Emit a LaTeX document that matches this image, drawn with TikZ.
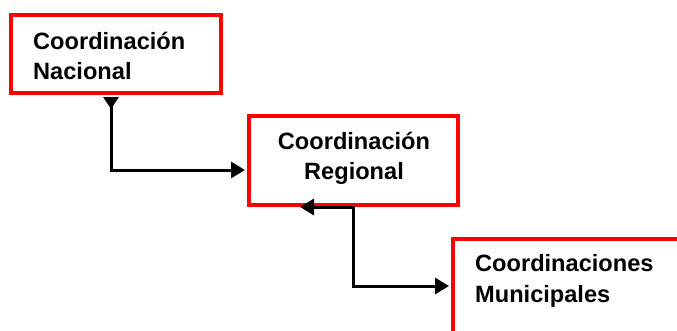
\documentclass[tikz,border=0pt]{standalone}
\usepackage{fontspec}
\setmainfont{Liberation Sans}
\usetikzlibrary{arrows.meta}
\tikzset{
  box/.style={draw=red, line width=4pt, rectangle, inner sep=0pt},
  label text/.style={font=\fontsize{23.6}{30}\selectfont\bfseries, inner sep=0pt, text=black},
  conn/.style={draw=black, line width=3pt},
}
\begin{document}
\begin{tikzpicture}[x=1pt, y=-1pt]
  \useasboundingbox (0,0) rectangle (677,330);
  \clip (0,0) rectangle (677,330);

  % boxes
  \node[box, minimum width=210pt, minimum height=78pt] (b1) at (116,54) {};
  \node[box, minimum width=209pt, minimum height=89pt] (b2) at (353.5,160.5) {};
  \node[box, minimum width=247pt, minimum height=111pt] (b3) at (576.5,294.5) {};

  % texts
  \node[label text, anchor=base west] (t1a) at (33,49) {Coordinación};
  \node[label text, anchor=base west] (t1b) at (33,79) {Nacional};
  \node[label text, anchor=base] (t2a) at (354,149) {Coordinación};
  \node[label text, anchor=base] (t2b) at (354,179) {Regional};
  \node[label text, anchor=base west] (t3a) at (475,271) {Coordinaciones};
  \node[label text, anchor=base west] (t3b) at (475,302) {Municipales};

  % helper coordinates for the elbow connectors
  \coordinate (x1) at (111,0);
  \coordinate (y1) at (0,170);
  \coordinate (x2) at (300,0);
  \coordinate (x3) at (353,0);
  \coordinate (y3) at (0,286);

  % Nacional -> Regional
  \draw[conn, {Triangle[reversed, length=12pt, width=15pt]}-{Triangle[length=14pt, width=16pt]}]
    ([yshift=-2pt]b1.south -| x1) -- (x1 |- y1) -- ([xshift=-2pt]b2.west |- y1);

  % Regional <-> Municipales
  \draw[conn, {Triangle[length=14pt, width=16pt]}-{Triangle[length=14pt, width=16pt]}]
    (b2.south -| x2) -- (b2.south -| x3) -- (x3 |- y3) -- ([xshift=-2pt]b3.west |- y3);
\end{tikzpicture}
\end{document}
